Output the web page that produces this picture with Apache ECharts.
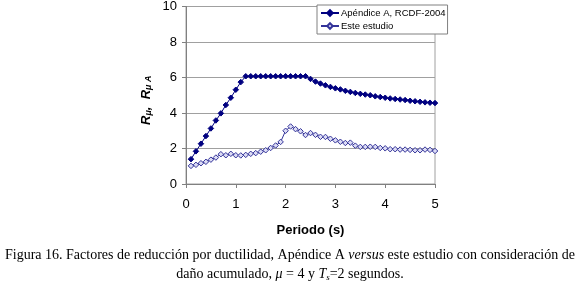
<!DOCTYPE html>
<html>
<head>
<meta charset="utf-8">
<script src="https://cdn.jsdelivr.net/npm/echarts@6/dist/echarts.min.js"></script>
<style>
  html, body { margin: 0; padding: 0; background: #fff; }
  #chart-container { width: 580px; height: 285px; }
</style>
</head>
<body>
<div id="chart-container"></div>
<script>
// periodo (s)
let periodos = [
    0.1, 0.2, 0.3, 0.4, 0.5, 0.6, 0.7, 0.8, 0.9, 1.0,
    1.1, 1.2, 1.3, 1.4, 1.5, 1.6, 1.7, 1.8, 1.9, 2.0,
    2.1, 2.2, 2.3, 2.4, 2.5, 2.6, 2.7, 2.8, 2.9, 3.0,
    3.1, 3.2, 3.3, 3.4, 3.5, 3.6, 3.7, 3.8, 3.9, 4.0,
    4.1, 4.2, 4.3, 4.4, 4.5, 4.6, 4.7, 4.8, 4.9, 5.0,
];
// Apéndice A, RCDF-2004
let rcdf = [
    1.40, 1.84, 2.27, 2.70, 3.13, 3.58, 3.98, 4.45, 4.86, 5.31,
    5.74, 6.07, 6.07, 6.07, 6.07, 6.07, 6.07, 6.07, 6.07, 6.07,
    6.07, 6.07, 6.07, 6.07, 5.92, 5.77, 5.66, 5.56, 5.47, 5.39,
    5.33, 5.25, 5.19, 5.13, 5.08, 5.04, 5.00, 4.94, 4.90, 4.86,
    4.82, 4.79, 4.76, 4.73, 4.69, 4.66, 4.63, 4.60, 4.58, 4.56,
];
// Este estudio
let estudio = [
    1.02, 1.08, 1.17, 1.25, 1.37, 1.49, 1.68, 1.62, 1.70, 1.62,
    1.61, 1.64, 1.70, 1.74, 1.82, 1.90, 2.03, 2.17, 2.37, 3.00,
    3.24, 3.09, 2.97, 2.76, 2.87, 2.77, 2.66, 2.65, 2.55, 2.46,
    2.38, 2.31, 2.33, 2.16, 2.09, 2.09, 2.10, 2.09, 2.03, 2.01,
    1.96, 1.96, 1.94, 1.94, 1.92, 1.90, 1.90, 1.94, 1.92, 1.86,
];
let xTicks = [0, 1, 2, 3, 4, 5];
let yTicks = [0, 2, 4, 6, 8, 10];

let dom = document.getElementById("chart-container");
let myChart = echarts.init(dom, null, { renderer: "canvas" });

let sans = "Liberation Sans, Arial, sans-serif";
let serif = "Liberation Serif, Times New Roman, serif";

function pares(vals) {
    return periodos.map((t, i) => [t, vals[i]]);
}

let option = {
    animation: false,
    backgroundColor: "#fff",
    title: {
        left: "center",
        top: 241,
        text: "{n|Figura 16. Factores de reducción por ductilidad, Apéndice A }{i|versus}{n| este estudio con consideración de}\n" +
            "{n|daño acumulado, }{i|μ}{n| = 4 y }{i|T}{sub|s}{n|=2 segundos.}",
        textStyle: {
            fontFamily: serif,
            fontSize: 14,
            fontWeight: "normal",
            color: "#000",
            lineHeight: 19,
            rich: {
                n: { fontFamily: serif, fontSize: 14, color: "#000", lineHeight: 19 },
                i: { fontFamily: serif, fontSize: 14, fontStyle: "italic", color: "#000", lineHeight: 19 },
                sub: { fontFamily: serif, fontSize: 9, fontStyle: "italic", color: "#000", lineHeight: 19, padding: [6, 0, 0, 0] },
            },
        },
    },
    legend: {
        left: 317,
        top: 5,
        orient: "vertical",
        itemGap: 3,
        itemWidth: 18,
        itemHeight: 7,
        padding: [3, 2, 3, 3],
        backgroundColor: "#fff",
        borderColor: "#808080",
        borderWidth: 1,
        textStyle: { fontFamily: sans, fontSize: 9.5, color: "#000", padding: [0, 0, 0, -3] },
        data: ["Apéndice A, RCDF-2004", "Este estudio"],
    },
    grid: {
        left: 186,
        right: 145,
        top: 5,
        bottom: 101,
        show: true,
        borderColor: "#a0a0a0",
        borderWidth: 1,
    },
    xAxis: {
        type: "value",
        min: xTicks[0],
        max: xTicks[xTicks.length - 1],
        interval: 1,
        name: "Periodo (s)",
        nameLocation: "middle",
        nameGap: 40,
        nameTextStyle: { fontFamily: sans, fontSize: 13, fontWeight: "bold", color: "#000" },
        axisLine: { lineStyle: { color: "#808080" } },
        axisTick: { show: true, length: 4, lineStyle: { color: "#808080" } },
        axisLabel: { fontFamily: sans, fontSize: 13, color: "#000", margin: 14 },
        splitLine: { show: false },
    },
    yAxis: {
        type: "value",
        min: yTicks[0],
        max: yTicks[yTicks.length - 1],
        interval: 2,
        name: "{r|R}{s|μ}{r|,  R}{s|μ A}",
        nameLocation: "middle",
        nameGap: 32,
        nameTextStyle: {
            padding: [0, 10, 0, 0],
            rich: {
                r: { fontFamily: sans, fontSize: 13, fontWeight: "bold", fontStyle: "italic", color: "#000", lineHeight: 16 },
                s: { fontFamily: sans, fontSize: 9, fontWeight: "bold", fontStyle: "italic", color: "#000", lineHeight: 16, padding: [5, 0, 0, 0] },
            },
        },
        axisLine: { show: true, lineStyle: { color: "#808080" } },
        axisTick: { show: true, length: 4, lineStyle: { color: "#808080" } },
        axisLabel: { fontFamily: sans, fontSize: 13, color: "#000", margin: 9 },
        splitLine: { show: true, lineStyle: { color: "#a0a0a0", width: 1 } },
    },
    series: [{
        name: "Apéndice A, RCDF-2004",
        type: "line",
        data: pares(rcdf),
        symbol: "diamond",
        symbolSize: 5.5,
        lineStyle: { color: "#000080", width: 1 },
        itemStyle: { color: "#000080", borderColor: "#000080", borderWidth: 1 },
    }, {
        name: "Este estudio",
        type: "line",
        data: pares(estudio),
        symbol: "diamond",
        symbolSize: 5.5,
        lineStyle: { color: "#333399", width: 1 },
        itemStyle: { color: "#dcdcf5", borderColor: "#333399", borderWidth: 1 },
    }, ],
};

if (option && typeof option === "object") {
    myChart.setOption(option);
}

window.addEventListener("resize", myChart.resize);
</script>
</body>
</html>
